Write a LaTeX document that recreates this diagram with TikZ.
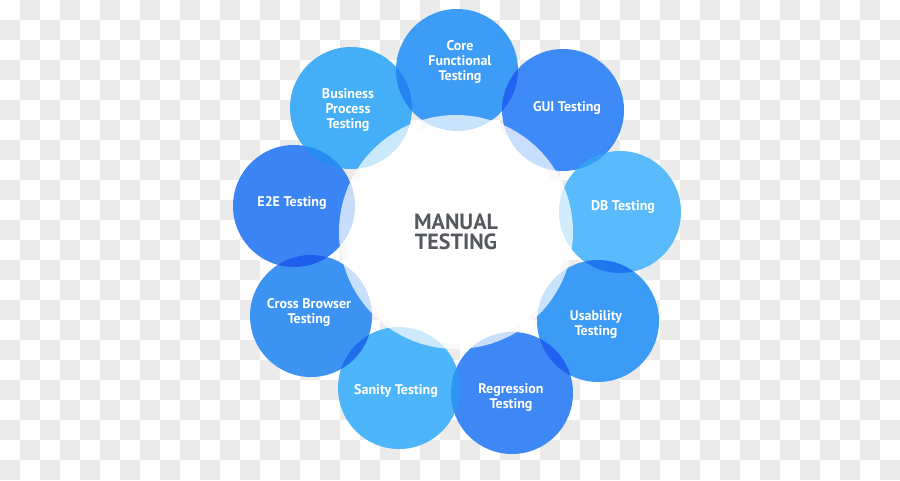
\documentclass[tikz,border=0pt]{standalone}
\usepackage{fontspec}
\setmainfont{PT Sans}
\definecolor{bgG}{RGB}{235,235,235}
\definecolor{Ccore}{RGB}{61,156,245}
\definecolor{Cgui}{RGB}{62,139,247}
\definecolor{Cdb}{RGB}{89,187,251}
\definecolor{Cusab}{RGB}{60,155,244}
\definecolor{Cregr}{RGB}{62,136,246}
\definecolor{Csan}{RGB}{77,181,249}
\definecolor{Ccross}{RGB}{61,147,242}
\definecolor{Ce2e}{RGB}{58,133,243}
\definecolor{Cbus}{RGB}{68,174,247}
\definecolor{manualtxt}{RGB}{85,89,93}
\begin{document}
\begin{tikzpicture}[x=1pt,y=-1pt,
  sat/.style={circle,minimum size=122pt,inner sep=0pt},
  lbl/.style={text=white,font=\bfseries\fontsize{14}{15}\selectfont,align=center,inner sep=0pt},
  hub/.style={circle,minimum size=234pt,inner sep=0pt,fill=white,fill opacity=0.72,text opacity=1,
    text=manualtxt,font=\bfseries\fontsize{22}{19.5}\selectfont,align=center}
]
\useasboundingbox (0,0) rectangle (900,480);
\begin{scope}
\clip (0,0) rectangle (900,480);
\fill[white] (0,0) rectangle (900,480);
\foreach \i in {0,40,...,880}{\foreach \j in {0,40,...,440}{
  \fill[bgG] (\i+20,\j) rectangle +(20,20);
  \fill[bgG] (\i,\j+20) rectangle +(20,20);}}
\end{scope}
% solid white under the hub
\fill[white] (456,234) circle[radius=110pt];
% satellites
\node[sat,fill=Ccore] (core) at (457,70) {};
\node[sat,fill=Cgui] (gui) at (563,110) {};
\node[sat,fill=Cdb] (db) at (620,212) {};
\node[sat,fill=Cusab] (usab) at (598,321) {};
\node[sat,fill=Cregr] (regr) at (512,393) {};
\node[sat,fill=Csan] (san) at (399,388) {};
\node[sat,fill=Ccross] (cross) at (311,316) {};
\node[sat,fill=Ce2e] (e2e) at (294,206) {};
\node[sat,fill=Cbus] (bus) at (351,108) {};
% overlaps
\foreach \a/\b in {core/gui,gui/db,db/usab,usab/regr,regr/san,san/cross,cross/e2e,e2e/bus,bus/core}{
  \begin{scope}
    \clip (\a) circle[radius=61pt];
    \begin{scope}[blend mode=multiply]
      \fill[fill=C\b,opacity=0.6] (\b) circle[radius=61pt];
    \end{scope}
  \end{scope}}
% hub
\node[hub] (manual) at (456,232) {MANUAL\\TESTING};
% labels
\node[lbl] (tcore) at (460,62) {Core\\Functional\\Testing};
\node[lbl] (tgui) at (567,108) {GUI Testing};
\node[lbl] (tdb) at (623,207) {DB Testing};
\node[lbl] (tusab) at (596,325) {Usability\\Testing};
\node[lbl] (tregr) at (511,398) {Regression\\Testing};
\node[lbl] (tsan) at (396,391) {Sanity Testing};
\node[lbl] (tcross) at (309,312) {Cross Browser\\Testing};
\node[lbl] (te2e) at (292,203) {E2E Testing};
\node[lbl] (tbus) at (348,110) {Business\\Process\\Testing};
\end{tikzpicture}
\end{document}
